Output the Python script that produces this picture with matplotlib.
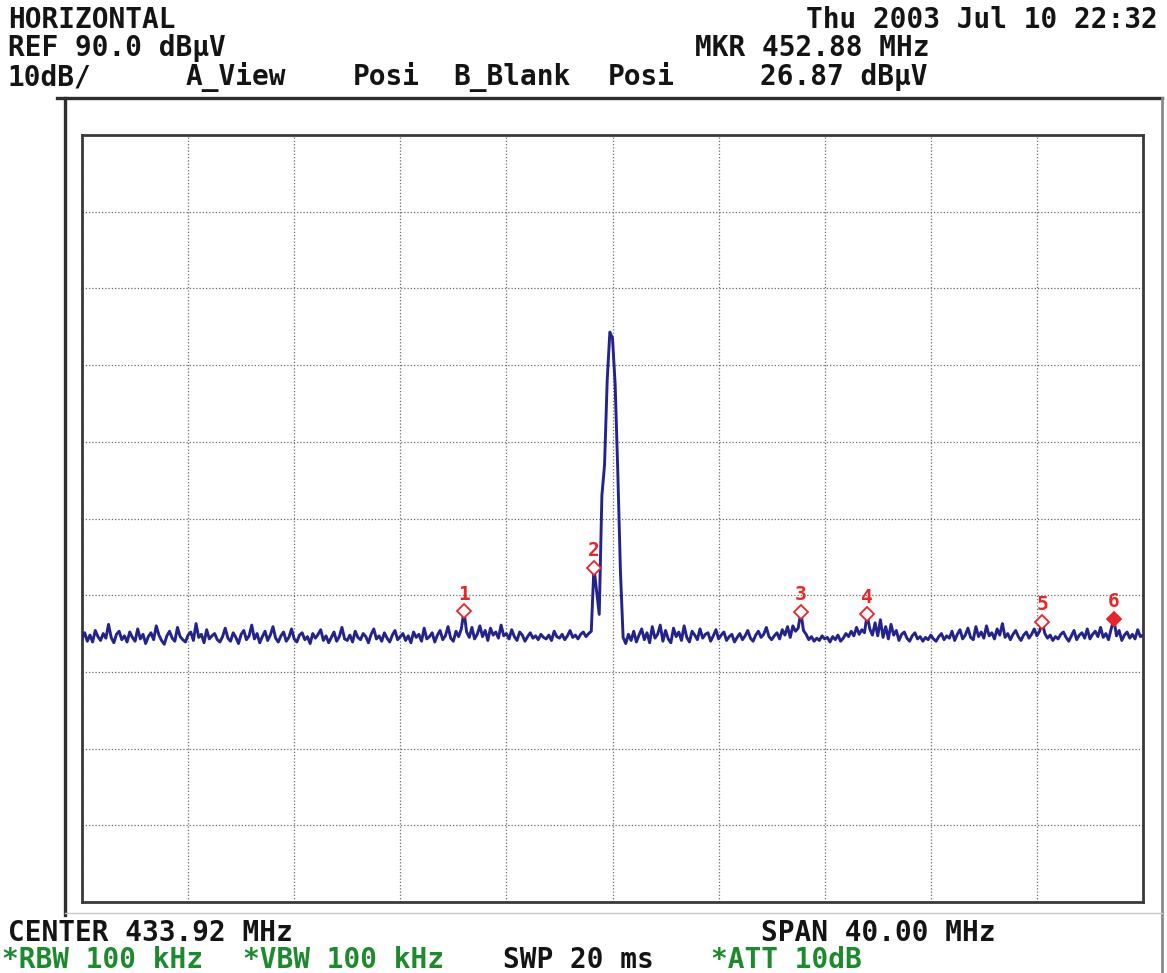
import numpy as np
import matplotlib
matplotlib.use("Agg")
import matplotlib.pyplot as plt
from matplotlib.lines import Line2D

# ---------------- data ----------------
center_mhz = 433.92
span_mhz = 40.00
ref_level = 90.0      # dBuV, top of screen
db_per_div = 10.0

# trace levels (dBuV), 401 sweep points across the span
trace_db = [
    24.3, 25.1, 24.0, 24.8, 23.9, 25.4, 24.6, 24.1, 25.0, 24.4, 26.2, 24.5, 23.8, 24.9, 25.3, 24.2, 24.7, 23.9, 25.2, 24.5,
    24.0, 25.6, 24.3, 24.9, 23.7, 24.6, 25.1, 24.2, 26.0, 24.8, 24.1, 23.6, 24.7, 25.3, 24.4, 24.0, 25.8, 24.6, 24.2, 23.9,
    24.8, 25.2, 24.1, 26.3, 24.5, 24.9, 23.8, 25.5, 24.3, 24.7, 25.0, 24.2, 23.9, 24.6, 25.7, 24.4, 24.0, 25.1, 24.5, 23.7,
    24.9, 25.4, 24.2, 24.7, 26.1, 24.3, 25.0, 23.8, 24.6, 25.3, 24.1, 24.8, 25.9, 24.4, 23.9, 24.7, 25.2, 24.0, 24.5, 25.6,
    24.3, 23.9, 24.8, 25.1, 24.2, 24.6, 23.7, 25.0, 24.4, 24.9, 25.5, 24.1, 24.7, 23.8, 24.5, 25.2, 24.0, 24.6, 25.8, 24.3,
    24.1, 24.8, 23.9, 25.3, 24.5, 24.2, 25.0, 24.6, 23.8, 24.9, 25.6, 24.3, 24.7, 24.0, 25.1, 24.4, 23.9, 24.8, 25.4, 24.2,
    24.6, 25.0, 24.1, 24.7, 23.8, 25.2, 24.5, 24.9, 24.0, 25.7, 24.3, 24.6, 25.1, 23.9, 24.8, 25.4, 24.2, 24.7, 25.9, 24.4,
    24.0, 25.3, 24.6, 25.6, 27.9, 25.2, 24.5, 25.8, 24.3, 24.9, 26.0, 24.6, 25.4, 24.1, 25.7, 24.8, 25.2, 24.4, 26.1, 24.7,
    25.0, 24.3, 25.5, 24.6, 24.1, 25.2, 24.8, 24.0, 24.6, 25.1, 24.4, 24.7, 24.2, 24.9, 24.5, 24.3, 24.8, 24.1, 25.3, 24.6,
    24.4, 24.9, 24.2, 24.7, 25.4, 24.5, 24.8, 24.3, 24.9, 25.2, 24.6, 25.0, 25.3, 33.6, 30.5, 27.5, 43.0, 47.0, 58.0, 64.3,
    63.5, 57.5, 46.0, 33.0, 24.5, 23.7, 24.9, 24.1, 25.3, 23.9, 24.8, 25.6, 24.2, 25.1, 23.8, 25.9, 24.4, 24.9, 26.1, 24.0,
    25.4, 24.3, 23.8, 25.7, 24.6, 25.2, 24.1, 26.0, 24.5, 23.9, 25.3, 24.8, 24.2, 25.6, 24.4, 24.9, 25.1, 24.0, 24.7, 25.5,
    24.3, 24.8, 25.2, 24.1, 24.6, 24.9, 23.9, 24.5, 25.0, 24.2, 24.7, 25.4, 24.4, 24.0, 24.8, 25.3, 24.5, 24.9, 25.8, 24.6,
    24.2, 24.7, 25.1, 24.3, 25.5, 24.8, 25.9, 24.5, 26.0, 25.3, 25.7, 27.8, 25.4, 24.9, 24.2, 24.6, 24.0, 24.4, 24.1, 24.7,
    24.3, 24.5, 23.9, 24.6, 24.2, 24.8, 24.0, 24.4, 25.0, 24.6, 25.3, 24.7, 25.8, 24.9, 25.5, 25.1, 27.5, 25.6, 24.8, 26.4,
    24.7, 26.8, 24.5, 25.9, 24.3, 26.2, 24.8, 25.4, 24.1, 24.9, 25.2, 24.4, 24.0, 24.7, 25.1, 24.3, 24.6, 24.0, 24.5, 24.2,
    24.8, 24.3, 24.0, 24.6, 25.0, 24.2, 24.7, 24.4, 25.3, 24.1, 24.9, 25.5, 24.3, 24.8, 25.7, 24.5, 24.2, 25.9, 24.6, 25.2,
    24.4, 26.0, 24.7, 25.1, 24.3, 25.6, 24.8, 26.3, 24.5, 25.0, 24.2, 24.9, 25.4, 24.6, 24.1, 24.8, 25.2, 24.4, 24.9, 25.6,
    24.7, 25.3, 26.5, 25.0, 24.4, 24.8, 24.1, 24.6, 24.3, 24.9, 25.2, 24.5, 24.0, 24.7, 25.4, 24.2, 24.8, 25.1, 24.4, 25.6,
    24.3, 24.9, 25.3, 24.6, 25.8, 24.5, 25.0, 24.2, 25.6, 26.9, 24.7, 25.4, 24.1, 24.8, 25.2, 24.4, 24.9, 24.3, 25.5, 24.6,
    24.8,
]

# markers: sweep-point index of each marker, label and whether it is the active one
marker_index = [144, 193, 271, 296, 362, 389]
marker_label = ["1", "2", "3", "4", "5", "6"]
marker_active = [False, False, False, False, False, True]

header_left = ["HORIZONTAL", "REF 90.0 dB\u03bcV", "10dB/"]
header_mid = ["A_View", "Posi", "B_Blank", "Posi"]
header_right = ["Thu 2003 Jul 10 22:32", "MKR 452.88 MHz", "26.87 dB\u03bcV"]
footer_row1 = ["CENTER 433.92 MHz", "SPAN 40.00 MHz"]
footer_row2 = ["*RBW 100 kHz", "*VBW 100 kHz", "SWP 20 ms", "*ATT 10dB"]

# ---------------- figure ----------------
W, H = 1167, 973
fig = plt.figure(figsize=(W / 100, H / 100), dpi=100)
fig.patch.set_facecolor("white")

def fx(px):
    return px / W

def fy(py):
    return 1 - py / H

# plot area (pixels)
L, R, T, B = 82, 1143, 135, 902
ax = fig.add_axes([fx(L), fy(B), (R - L) / W, (B - T) / H])

f_start = center_mhz - span_mhz / 2
f_stop = center_mhz + span_mhz / 2
freqs = np.linspace(f_start, f_stop, len(trace_db))
levels = np.array(trace_db)

ax.set_xlim(f_start, f_stop)
ax.set_ylim(ref_level - 10 * db_per_div, ref_level)
ax.set_xticks(np.linspace(f_start, f_stop, 11))
ax.set_yticks(np.arange(ref_level - 10 * db_per_div, ref_level + 0.1, db_per_div))
ax.tick_params(length=0, labelleft=False, labelbottom=False)
ax.grid(True, color="#6a6a6a", linestyle=(0, (1, 1.6)), linewidth=0.9)
for s in ax.spines.values():
    s.set_color("#3a3a3a")
    s.set_linewidth(2.0)

trace_color = "#23238c"
ax.plot(freqs, levels, color=trace_color, linewidth=2.1, zorder=3)

red = "#e8262a"
for idx, lab, act in zip(marker_index, marker_label, marker_active):
    mx, my = freqs[idx], levels[idx]
    ax.plot([mx], [my], marker="D", markersize=7.5,
            markerfacecolor=red if act else "white",
            markeredgecolor=red, markeredgewidth=1.3, zorder=5)
    ax.annotate(lab, (mx, my), xytext=(0, 5.5), textcoords="offset points",
                ha="center", va="bottom", color=red, fontsize=14,
                family="DejaVu Sans Mono", fontweight="bold", zorder=6)

# outer instrument frame
frame_dark = "#2e2e2e"
fig.add_artist(Line2D([fx(57), fx(1162)], [fy(98), fy(98)], color=frame_dark, lw=2.4))
fig.add_artist(Line2D([fx(65), fx(65)], [fy(98), fy(915)], color=frame_dark, lw=2.4))
fig.add_artist(Line2D([fx(1162), fx(1162)], [fy(98), fy(973)], color="#8a8a8a", lw=2.0))
fig.add_artist(Line2D([fx(65), fx(1162)], [fy(913), fy(913)], color="#c8c8c8", lw=1.0))

txt = dict(fontsize=20, color="#141414", va="center", family="DejaVu Sans Mono",
           fontweight="bold")
green = "#1d8a2e"

# header
fig.text(fx(8), fy(20), header_left[0], **txt)
fig.text(fx(8), fy(48), header_left[1], **txt)
fig.text(fx(8), fy(77), header_left[2], **txt)
for s, x in zip(header_mid, [186, 353, 453, 608]):
    fig.text(fx(x), fy(77), s, **txt)
fig.text(fx(1158), fy(20), header_right[0], ha="right", **txt)
fig.text(fx(695), fy(48), header_right[1], **txt)
fig.text(fx(760), fy(77), header_right[2], **txt)

# footer
fig.text(fx(8), fy(933), footer_row1[0], **txt)
fig.text(fx(761), fy(933), footer_row1[1], **txt)
for s, x, c in zip(footer_row2, [2, 243, 503, 711], [green, green, "#141414", green]):
    d = dict(txt)
    d["color"] = c
    fig.text(fx(x), fy(960), s, **d)

fig.savefig("out.png", dpi=100, facecolor="white")
